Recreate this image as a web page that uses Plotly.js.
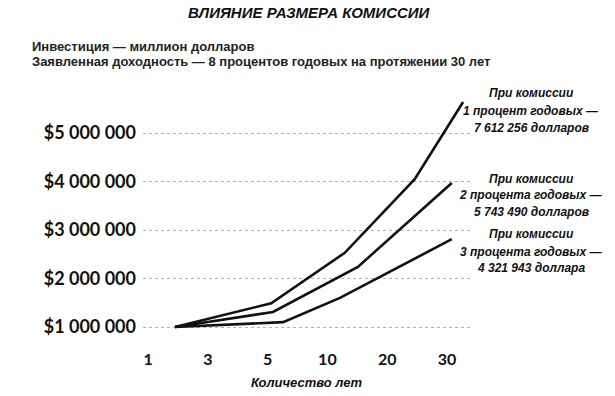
<!DOCTYPE html>
<html><head><meta charset="utf-8">
<script src="https://cdn.plot.ly/plotly-3.0.1.min.js"></script>
<style>body{margin:0;background:#fff}#c{width:615px;height:396px}</style>
</head><body><div id="c"></div>
<script>
// x positions are tick-slot indices (0 = "1", 1 = "3", 2 = "5", 3 = "10", 4 = "20", 5 = "30")
const xTickVals = [0, 1, 2, 3, 4, 5];
const xTickText = ["1", "3", "5", "10", "20", "30"];
const yTickVals = [1000000, 2000000, 3000000, 4000000, 5000000];
const yTickText = ["$1 000 000", "$2 000 000", "$3 000 000", "$4 000 000", "$5 000 000"];

const fee1X = [0.45, 2.06, 3.29, 4.46, 5.27];
const fee1Y = [1000000, 1490000, 2530000, 4050000, 5640000];
const fee2X = [0.45, 2.09, 3.51, 5.08];
const fee2Y = [1000000, 1310000, 2240000, 3970000];
const fee3X = [0.45, 2.26, 3.21, 5.08];
const fee3Y = [1000000, 1100000, 1600000, 2810000];

const labelLines = [
  ["При комиссии", "1 процент годовых —", "7 612 256 долларов"],
  ["При комиссии", "2 процента годовых —", "5 743 490 долларов"],
  ["При комиссии", "3 процента годовых —", "4 321 943 доллара"]
];

const M = {l: 143, r: 145, t: 90, b: 56};
const W = 615, H = 396;
const pw = W - M.l - M.r, ph = H - M.t - M.b;
const px = v => (v - M.l) / pw;
const py = v => (H - M.b - v) / ph;

const line = {color: "#111", width: 2.6};
const traces = [
  {x: fee1X, y: fee1Y, mode: "lines", line: line, hoverinfo: "skip"},
  {x: fee2X, y: fee2Y, mode: "lines", line: line, hoverinfo: "skip"},
  {x: fee3X, y: fee3Y, mode: "lines", line: line, hoverinfo: "skip"}
];

const annFont = {family: "Liberation Sans, Arial, sans-serif", size: 12, color: "#111", style: "italic", weight: 700};
const subFont = {family: "Liberation Sans Narrow, Arial Narrow, sans-serif", size: 13, color: "#222", weight: 700};
const annotations = [
  {xref: "paper", yref: "paper", x: px(309), y: py(13), xanchor: "center", yanchor: "middle", showarrow: false,
   text: "<b><i>ВЛИЯНИЕ РАЗМЕРА КОМИССИИ</i></b>", font: {family: "Liberation Sans, Arial, sans-serif", size: 15, color: "#111"}},
  {xref: "paper", yref: "paper", x: px(30), y: py(46), xanchor: "left", yanchor: "middle", showarrow: false,
   text: "Инвестиция — миллион долларов", font: subFont},
  {xref: "paper", yref: "paper", x: px(30), y: py(62), xanchor: "left", yanchor: "middle", showarrow: false,
   text: "Заявленная доходность — 8 процентов годовых на протяжении 30 лет", font: subFont}
];
const blockY = [[93, 111, 128], [179, 195, 212], [234, 252, 268]];
labelLines.forEach((lines, i) => lines.forEach((t, j) => annotations.push({
  xref: "paper", yref: "paper", x: px(531), y: py(blockY[i][j]), xanchor: "center", yanchor: "middle",
  showarrow: false, text: t, font: annFont
})));

const layout = {
  width: W, height: H,
  margin: M,
  paper_bgcolor: "#fff", plot_bgcolor: "#fff",
  showlegend: false,
  xaxis: {range: [-0.084, 5.385], tickvals: xTickVals, ticktext: xTickText, showgrid: false, zeroline: false,
          showline: false, ticks: "", ticklabelstandoff: 8,
          tickfont: {family: "Lato, Roboto, sans-serif", size: 16, color: "#111", weight: 700},
          title: {text: "<b><i>Количество лет</i></b>", standoff: 10,
                  font: {family: "Liberation Sans, Arial, sans-serif", size: 13, color: "#111"}}},
  yaxis: {range: [732000, 5887000], tickvals: yTickVals, ticktext: yTickText, showgrid: true,
          gridcolor: "#b0b0b0", griddash: "dot", gridwidth: 1, zeroline: false, showline: false, ticks: "",
          ticklabelstandoff: 6,
          tickfont: {family: "Lato, Roboto, sans-serif", size: 18, color: "#111", weight: 700}},
  annotations: annotations
};
Plotly.newPlot("c", traces, layout, {staticPlot: true, displayModeBar: false});
</script></body></html>
